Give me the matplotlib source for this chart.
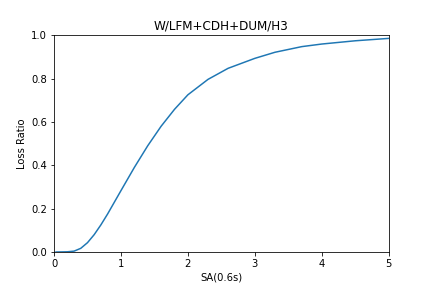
import matplotlib
matplotlib.use("Agg")
import matplotlib.pyplot as plt

sa = [0.03, 0.2, 0.3, 0.4, 0.5, 0.6, 0.7, 0.8, 0.9, 1.0, 1.2, 1.4, 1.6, 1.8, 2.0,
      2.3, 2.6, 3.0, 3.3, 3.7, 4.0, 4.5, 5.0]
loss_ratio = [0.0, 0.001, 0.004, 0.017, 0.043, 0.08, 0.125, 0.175, 0.229, 0.283,
              0.39, 0.49, 0.58, 0.658, 0.725, 0.796, 0.847, 0.893, 0.921, 0.947,
              0.959, 0.974, 0.985]

fig = plt.figure(figsize=(6, 4), dpi=72)
ax = fig.add_axes([0.125, 0.125, 0.775, 0.753])
ax.plot(sa, loss_ratio, color="#1f77b4", linewidth=1.5)
ax.set_xlim(0, 5)
ax.set_ylim(0, 1)
ax.set_xlabel("SA(0.6s)")
ax.set_ylabel("Loss Ratio")
ax.set_title("W/LFM+CDH+DUM/H3")
fig.savefig("out.png", dpi=72)
